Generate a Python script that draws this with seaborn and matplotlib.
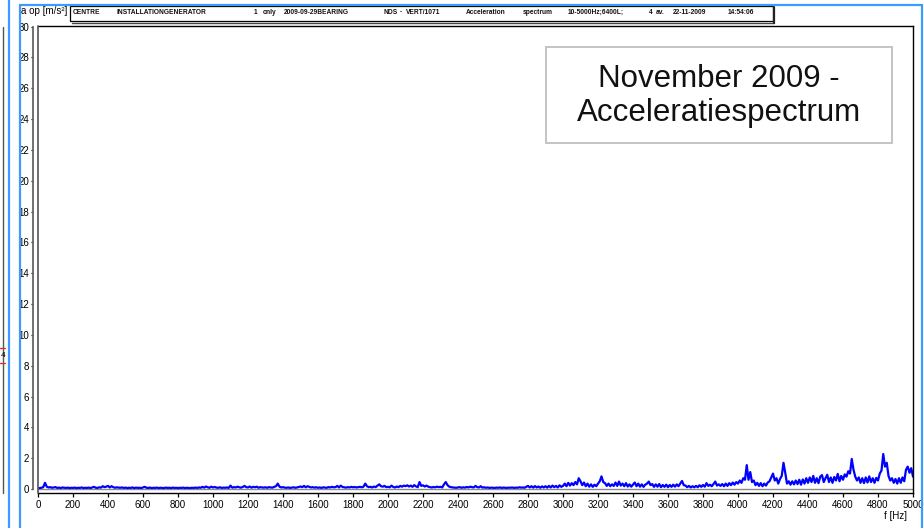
import numpy as np
import matplotlib
matplotlib.use("Agg")
import matplotlib.pyplot as plt
from matplotlib import font_manager as fm
from matplotlib.lines import Line2D
from matplotlib.patches import Rectangle
import seaborn as sns

# ---- spectrum data: amplitude a op [m/s^2] every 10 Hz from 0 to 5000 Hz ----
freq_hz = list(range(0, 5001, 10))
amplitude = [
    0.05, 0.06, 0.08, 0.12, 0.40, 0.15, 0.10, 0.12, 0.08, 0.10,   # 0
    0.12, 0.07, 0.09, 0.06, 0.10, 0.08, 0.07, 0.09, 0.06, 0.08,   # 100
    0.07, 0.09, 0.06, 0.08, 0.07, 0.10, 0.06, 0.08, 0.07, 0.09,   # 200
    0.06, 0.10, 0.14, 0.08, 0.07, 0.11, 0.09, 0.18, 0.12, 0.15,   # 300
    0.20, 0.10, 0.18, 0.12, 0.08, 0.11, 0.09, 0.08, 0.10, 0.07,   # 400
    0.09, 0.06, 0.08, 0.07, 0.10, 0.06, 0.09, 0.07, 0.08, 0.06,   # 500
    0.10, 0.14, 0.08, 0.07, 0.09, 0.06, 0.08, 0.07, 0.09, 0.06,   # 600
    0.08, 0.07, 0.06, 0.09, 0.07, 0.08, 0.06, 0.09, 0.07, 0.08,   # 700
    0.06, 0.08, 0.07, 0.09, 0.06, 0.08, 0.07, 0.06, 0.08, 0.07,   # 800
    0.09, 0.07, 0.10, 0.08, 0.14, 0.09, 0.16, 0.11, 0.08, 0.15,   # 900
    0.10, 0.13, 0.09, 0.08, 0.11, 0.07, 0.09, 0.08, 0.10, 0.07,   # 1000
    0.22, 0.09, 0.12, 0.10, 0.15, 0.11, 0.09, 0.13, 0.20, 0.12,   # 1100
    0.10, 0.16, 0.09, 0.14, 0.11, 0.15, 0.08, 0.12, 0.10, 0.09,   # 1200
    0.11, 0.08, 0.12, 0.10, 0.09, 0.14, 0.18, 0.35, 0.15, 0.10,   # 1300
    0.12, 0.09, 0.08, 0.10, 0.07, 0.09, 0.11, 0.08, 0.10, 0.13,   # 1400
    0.16, 0.12, 0.20, 0.11, 0.18, 0.14, 0.10, 0.12, 0.09, 0.11,   # 1500
    0.08, 0.10, 0.07, 0.11, 0.09, 0.08, 0.12, 0.10, 0.14, 0.11,   # 1600
    0.12, 0.20, 0.10, 0.22, 0.13, 0.11, 0.09, 0.12, 0.10, 0.14,   # 1700
    0.11, 0.13, 0.10, 0.12, 0.14, 0.11, 0.15, 0.35, 0.18, 0.12,   # 1800
    0.14, 0.10, 0.16, 0.12, 0.22, 0.30, 0.18, 0.15, 0.20, 0.12,   # 1900
    0.14, 0.11, 0.22, 0.13, 0.10, 0.16, 0.12, 0.20, 0.15, 0.22,   # 2000
    0.18, 0.24, 0.16, 0.22, 0.14, 0.25, 0.17, 0.12, 0.45, 0.20,   # 2100
    0.24, 0.16, 0.22, 0.15, 0.12, 0.10, 0.13, 0.11, 0.15, 0.12,   # 2200
    0.14, 0.10, 0.30, 0.45, 0.25, 0.15, 0.12, 0.10, 0.09, 0.08,   # 2300
    0.10, 0.12, 0.08, 0.11, 0.09, 0.13, 0.10, 0.15, 0.12, 0.10,   # 2400
    0.20, 0.12, 0.10, 0.18, 0.09, 0.11, 0.08, 0.10, 0.07, 0.09,   # 2500
    0.08, 0.07, 0.09, 0.08, 0.10, 0.07, 0.09, 0.08, 0.07, 0.09,   # 2600
    0.08, 0.10, 0.07, 0.09, 0.08, 0.11, 0.09, 0.10, 0.08, 0.14,   # 2700
    0.20, 0.10, 0.18, 0.09, 0.19, 0.10, 0.16, 0.08, 0.17, 0.10,   # 2800
    0.18, 0.09, 0.20, 0.10, 0.22, 0.12, 0.20, 0.10, 0.24, 0.14,   # 2900
    0.20, 0.35, 0.18, 0.40, 0.22, 0.38, 0.25, 0.45, 0.30, 0.70,   # 3000
    0.50, 0.25, 0.42, 0.18, 0.35, 0.15, 0.30, 0.14, 0.28, 0.18,   # 3100
    0.35, 0.50, 0.82, 0.45, 0.38, 0.20, 0.35, 0.18, 0.30, 0.20,   # 3200
    0.42, 0.20, 0.48, 0.22, 0.35, 0.18, 0.38, 0.16, 0.30, 0.15,   # 3300
    0.28, 0.42, 0.18, 0.35, 0.15, 0.30, 0.14, 0.28, 0.35, 0.48,   # 3400
    0.25, 0.32, 0.14, 0.30, 0.15, 0.32, 0.12, 0.26, 0.14, 0.28,   # 3500
    0.12, 0.26, 0.14, 0.28, 0.15, 0.30, 0.18, 0.35, 0.52, 0.25,   # 3600
    0.22, 0.12, 0.20, 0.10, 0.18, 0.11, 0.20, 0.12, 0.24, 0.14,   # 3700
    0.26, 0.15, 0.38, 0.20, 0.28, 0.18, 0.32, 0.48, 0.22, 0.30,   # 3800
    0.20, 0.32, 0.18, 0.35, 0.20, 0.38, 0.25, 0.42, 0.28, 0.45,   # 3900
    0.35, 0.55, 0.40, 0.70, 0.60, 1.55, 0.60, 1.10, 0.45, 0.55,   # 4000
    0.25, 0.40, 0.20, 0.38, 0.18, 0.35, 0.22, 0.42, 0.50, 0.75,   # 4100
    1.00, 0.55, 0.70, 0.35, 0.65, 0.85, 1.70, 1.05, 0.35, 0.50,   # 4200
    0.28, 0.50, 0.30, 0.55, 0.32, 0.60, 0.28, 0.62, 0.35, 0.70,   # 4300
    0.40, 0.75, 0.45, 0.85, 0.40, 0.70, 0.38, 0.80, 0.90, 0.45,   # 4400
    0.70, 0.92, 0.45, 0.75, 0.40, 0.78, 0.55, 0.98, 0.50, 0.85,   # 4500
    0.60, 0.95, 0.80, 1.15, 1.00, 1.95, 1.25, 0.80, 0.55, 0.75,   # 4600
    0.40, 0.70, 0.38, 0.75, 0.42, 0.82, 0.45, 0.70, 0.40, 0.72,   # 4700
    0.55, 1.00, 1.20, 2.27, 1.45, 1.70, 0.85, 0.55, 0.70, 0.40,   # 4800
    0.65, 0.35, 0.70, 0.40, 0.75, 0.50, 1.25, 1.45, 1.05, 1.35,   # 4900
    0.80,                                                         # 5000
]

x_ticks = list(range(0, 5001, 200))
y_ticks = list(range(0, 31, 2))

header_items = [
    ("CENTRE", 73), ("INSTALLATIONGENERATOR", 117), ("1", 254), ("only", 263),
    ("2009-09-29BEARING", 284), ("NDS", 383), ("-", 400), ("VERT/1071", 406),
    ("Acceleration", 466), ("spectrum", 523), ("10-5000Hz;6400L;", 568),
    ("4", 649), ("av.", 656), ("22-11-2009", 673), ("14:54:06", 728),
]
title_text = "November 2009 -\nAcceleratiespectrum"
y_label = "a op [m/s²]"
x_label = "f [Hz]"

# ---- fonts ----
sns.set_theme(style="white")
available = {f.name for f in fm.fontManager.ttflist}
NARROW = "Liberation Sans Narrow" if "Liberation Sans Narrow" in available else "Liberation Sans"
plt.rcParams["font.family"] = [NARROW, "DejaVu Sans"]

W, H = 924, 528
fig = plt.figure(figsize=(W / 100, H / 100), dpi=100)
fig.patch.set_facecolor("white")


def fx(px):
    return px / W


def fy(py):
    return 1 - py / H


# plot area: x=0 Hz at px 38, x=5000 Hz at px 913; axis line at py 493, top at py 26
ax = fig.add_axes([fx(38), fy(493), (913 - 38) / W, (493 - 26) / H])
sns.lineplot(x=freq_hz, y=amplitude, ax=ax, color="#0000ff", lw=1.6,
             estimator=None, sort=False)
ax.axhline(0, color="#8a8a8a", lw=1.0, zorder=1)

ax.set_xlim(0, 5000)
ax.set_ylim(-0.26, 30.04)
ax.set_xticks(x_ticks)
ax.set_yticks(y_ticks)
ax.set_xticklabels([str(t) for t in x_ticks])
ax.set_yticklabels([str(t) for t in y_ticks])
ax.set_xlabel("")
ax.set_ylabel("")
ax.tick_params(axis="x", direction="out", length=3.2, width=0.9, pad=1.5,
               labelsize=7.0, colors="black", bottom=True)
ax.tick_params(axis="y", direction="out", length=1.8, width=0.9, pad=0.8,
               labelsize=7.0, colors="black", left=True)

for side in ("top", "right", "bottom"):
    ax.spines[side].set_visible(True)
    ax.spines[side].set_color("black")
    ax.spines[side].set_linewidth(1.0)
ax.spines["left"].set_visible(True)
ax.spines["left"].set_color("#666666")
ax.spines["left"].set_linewidth(1.3)
ax.spines["left"].set_position(("outward", 3.6))
ax.spines["left"].set_bounds(0, 30.0)
ax.grid(False)

# inner frame line of the y-axis
fig.add_artist(Line2D([fx(37.5), fx(37.5)], [fy(26), fy(493)], color="#555555", lw=1.2))

# axis titles
fig.text(fx(21), fy(11), y_label, fontsize=7.0, ha="left", va="center", color="black")
fig.text(fx(895), fy(516), x_label, fontsize=7.0, ha="center", va="center", color="black")

# header strip with shadow
fig.add_artist(Rectangle((fx(70), fy(21)), (773 - 70) / W, (21 - 6) / H,
                         facecolor="white", edgecolor="black", lw=0.9))
fig.add_artist(Line2D([fx(72), fx(774)], [fy(22.5), fy(22.5)], color="#444444", lw=1.0))
fig.add_artist(Line2D([fx(774), fx(774)], [fy(7), fy(22.5)], color="#222222", lw=1.6))
for label, px in header_items:
    fig.text(fx(px), fy(12), label, fontsize=4.8, fontweight="bold",
             ha="left", va="center", color="#111111")

# annotation box
fig.add_artist(Rectangle((fx(546), fy(143)), (892 - 546) / W, (143 - 47) / H,
                         facecolor="white", edgecolor="#c4c4c4", lw=1.4))
fig.text(fx(719), fy(96), title_text, fontsize=22.5, ha="center", va="center",
         color="#111111", family=["Liberation Sans", "DejaVu Sans"], linespacing=1.2)

# neighbouring panel edge on the far left
fig.add_artist(Line2D([fx(2.5), fx(2.5)], [fy(27), fy(493)], color="#555555", lw=1.0))
fig.add_artist(Line2D([fx(0), fx(5)], [fy(348), fy(348)], color="#e03030", lw=1.0))
fig.add_artist(Line2D([fx(0), fx(5)], [fy(363), fy(363)], color="#e03030", lw=1.0))
fig.text(fx(0.5), fy(355.5), "4", fontsize=6, ha="left", va="center", color="black")

# blue window borders
blue = "#3d9bff"
fig.add_artist(Line2D([fx(9), fx(9)], [fy(0), fy(528)], color=blue, lw=1.6))
fig.add_artist(Line2D([fx(20), fx(20)], [fy(5), fy(528)], color=blue, lw=1.6))
fig.add_artist(Line2D([fx(20), fx(922)], [fy(5), fy(5)], color=blue, lw=1.6))
fig.add_artist(Line2D([fx(922), fx(922)], [fy(5), fy(528)], color=blue, lw=1.6))

fig.savefig("out.png", dpi=100, facecolor="white")
